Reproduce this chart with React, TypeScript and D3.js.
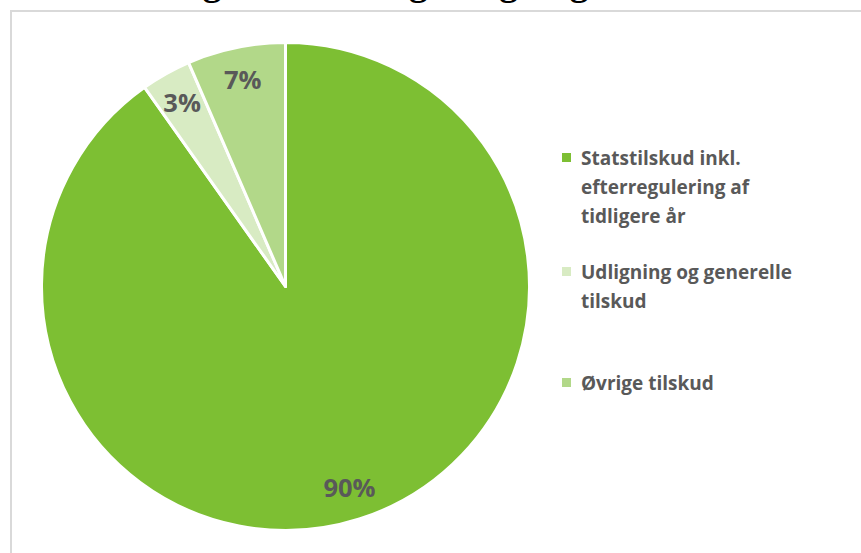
import * as React from "react";
import * as d3 from "d3";

const categories = [
  "Statstilskud inkl. efterregulering af tidligere år",
  "Udligning og generelle tilskud",
  "Øvrige tilskud",
];
const legendLines = [
  ["Statstilskud inkl.", "efterregulering af", "tidligere år"],
  ["Udligning og generelle", "tilskud"],
  ["Øvrige tilskud"],
];
const values = [90.2, 3.3, 6.5];
const colors = ["#7dbf33", "#d8ebc3", "#b2d889"];
const title = "Fordeling af tilskud og udligning";

const App: React.FC = () => {
  const width = 861;
  const height = 553;
  const cx = 285.5;
  const cy = 286.5;
  const r = 244;

  const pie = d3
    .pie<number>()
    .sort(null)
    .value((d) => d);
  const arcs = pie(values);
  const arc = d3.arc<d3.PieArcDatum<number>>().innerRadius(0).outerRadius(r);
  const labelArc = d3
    .arc<d3.PieArcDatum<number>>()
    .innerRadius(r * 0.865)
    .outerRadius(r * 0.865);
  const total = d3.sum(values);

  // legend rows: first baseline of each entry
  const legendY = [165, 279, 390];
  const lineH = 29;

  return (
    <svg
      width={width}
      height={height}
      style={{ position: "absolute", left: 0, top: 0, background: "#fff" }}
    >
      {/* title sits above the visible area, only descenders show */}
      <text
        x={66}
        y={-5}
        fontFamily="Liberation Serif, serif"
        fontWeight="bold"
        fontSize={37.3}
        fill="#000"
      >
        {title}
      </text>
      <rect
        x={11}
        y={11}
        width={900}
        height={600}
        fill="#fff"
        stroke="#d9d9d9"
        strokeWidth={2}
      />
      <g transform={`translate(${cx},${cy})`}>
        {arcs.map((a, i) => (
          <path
            key={i}
            d={arc(a) || undefined}
            fill={colors[i]}
            stroke="#fff"
            strokeWidth={3}
            strokeLinejoin="round"
          />
        ))}
        {arcs.map((a, i) => {
          const [lx, ly] = labelArc.centroid(a);
          return (
            <text
              key={i}
              x={lx}
              y={ly}
              dy="0.36em"
              textAnchor="middle"
              fontFamily="Open Sans, sans-serif"
              fontWeight="bold"
              fontSize={25.5}
              fill="#595959"
            >
              {Math.round((a.value / total) * 100)}%
            </text>
          );
        })}
      </g>
      <g fontFamily="Open Sans, sans-serif" fontWeight="bold" fontSize={19} fill="#595959">
        {categories.map((c, i) => (
          <g key={c}>
            <rect x={562} y={legendY[i] - 12} width={9} height={9} fill={colors[i]} />
            <text x={581} y={legendY[i]}>
              {legendLines[i].map((l, j) => (
                <tspan key={j} x={581} y={legendY[i] + j * lineH}>
                  {l}
                </tspan>
              ))}
            </text>
          </g>
        ))}
      </g>
    </svg>
  );
};

export default App;
